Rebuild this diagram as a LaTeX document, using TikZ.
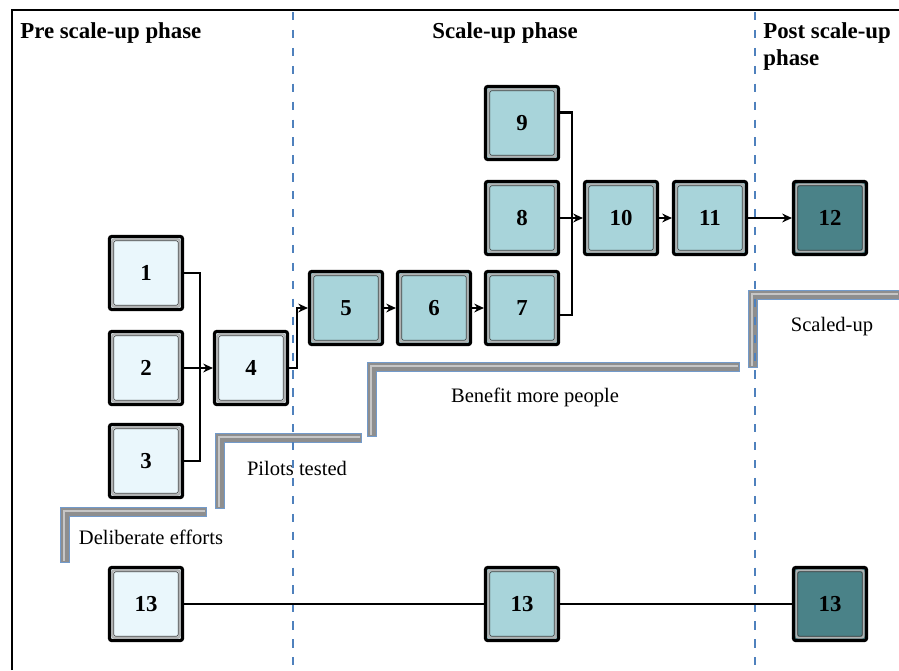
\documentclass[tikz,border=0pt]{standalone}
\usepackage{fontspec}
\setmainfont{Liberation Serif}
\usetikzlibrary{calc,arrows.meta}
\definecolor{lite}{HTML}{EAF7FC}
\definecolor{mid}{HTML}{A8D4DA}
\definecolor{deep}{HTML}{4A8288}
\definecolor{guide}{HTML}{4F81BD}
\definecolor{bar}{HTML}{8E8E8E}

\tikzset{
  box/.style={draw=black, line width=1.8pt, rounded corners=1.2pt, minimum size=1.46cm,
    inner sep=0pt, font=\fontsize{13}{14}\selectfont\bfseries,
    path picture={
      \draw[gray!60, line width=1.1pt]
        ([shift={(1.6pt,1.6pt)}]path picture bounding box.south west) rectangle
        ([shift={(-1.6pt,-1.6pt)}]path picture bounding box.north east);
      \draw[black!75, line width=.4pt]
        ([shift={(2.4pt,2.4pt)}]path picture bounding box.south west) rectangle
        ([shift={(-2.4pt,-2.4pt)}]path picture bounding box.north east);}},
  link/.style={line width=1.2pt},
  arr/.style={link,->},
  phase/.style={font=\fontsize{13}{15.3}\selectfont\bfseries},
  steplabel/.style={font=\fontsize{11.7}{13}\selectfont},
}

\begin{document}
\begin{tikzpicture}[x=0.02cm,y=-0.02cm,>={Stealth[length=5.5pt,width=5pt]}]
        \useasboundingbox (0,0) rectangle (899,670);
        % background
        \draw[line width=1.1pt] (12,670) -- (12,10) -- (899,10);
        % steps
        \foreach \x/\y/\e/\b in {60/507/206/562, 215/433/361/508, 367/362/739/436, 748/290/899/367}
          {\filldraw[fill=bar, draw=guide!80, line width=.4pt]
              (\x,\b) -- (\x,\y) -- (\e,\y) -- (\e,\y+9) -- (\x+9,\y+9) -- (\x+9,\b) -- cycle;
           \draw[gray!45, line width=1.4pt] (\x+4,\b-1) -- (\x+4,\y+4) -- (\e-1,\y+4);}
        \node[steplabel] (s1) at (151,537) {Deliberate efforts};
        \node[steplabel] (s2) at (297,468) {Pilots tested};
        \node[steplabel] (s3) at (535,397) {Benefit more people};
        \node[steplabel] (s4) at (832,327) {Scaled-up};
        % phases
        \foreach \g in {293,755}
          \draw[guide, line width=.9pt, dash pattern=on 4.7pt off 5.5pt] (\g,12) -- (\g,670);
        \node[phase, anchor=west, inner sep=0pt] (pre) at (20,33) {Pre scale-up phase};
        \node[phase] (scale) at (505,33) {Scale-up phase};
        \node[phase, anchor=north west, align=left, inner sep=0pt] (post) at (763,22) {Post scale-up\\phase};
        % boxes
        \foreach \n/\x/\y/\c in {1/146/273/lite, 2/146/368/lite, 3/146/461/lite, 4/251/368/lite,
                                 5/346/308/mid, 6/434/308/mid, 7/522/308/mid, 8/522/218/mid,
                                 9/522/123/mid, 10/621/218/mid, 11/710/218/mid, 12/830/218/deep}
          \node[box, fill=\c] (n\n) at (\x,\y) {\n};
        \foreach \m/\x/\c in {a/146/lite, b/522/mid, c/830/deep}
          \node[box, fill=\c] (n13\m) at (\x,604) {13};
        % links
        \draw[link] (n1.east) -- ++(16,0) |- (n3.east);
        \draw[arr] (n2.east) -- (n4.west);
        \draw[arr] (n4.east) -- ++(8,0) |- (n5.west);
        \draw[arr] (n5) -- (n6);
        \draw[arr] (n6) -- (n7);
        \draw[link] ([yshift=6pt]n9.east) -- ++(12,0) |- ([yshift=-4pt]n7.east);
        \draw[arr] (n8) -- (n10);
        \draw[arr] (n10) -- (n11);
        \draw[arr] (n11) -- (n12);
        \draw[link, line width=1.4pt] (n13a) -- (n13b);
        \draw[link, line width=1.4pt] (n13b) -- (n13c);
\end{tikzpicture}
\end{document}
